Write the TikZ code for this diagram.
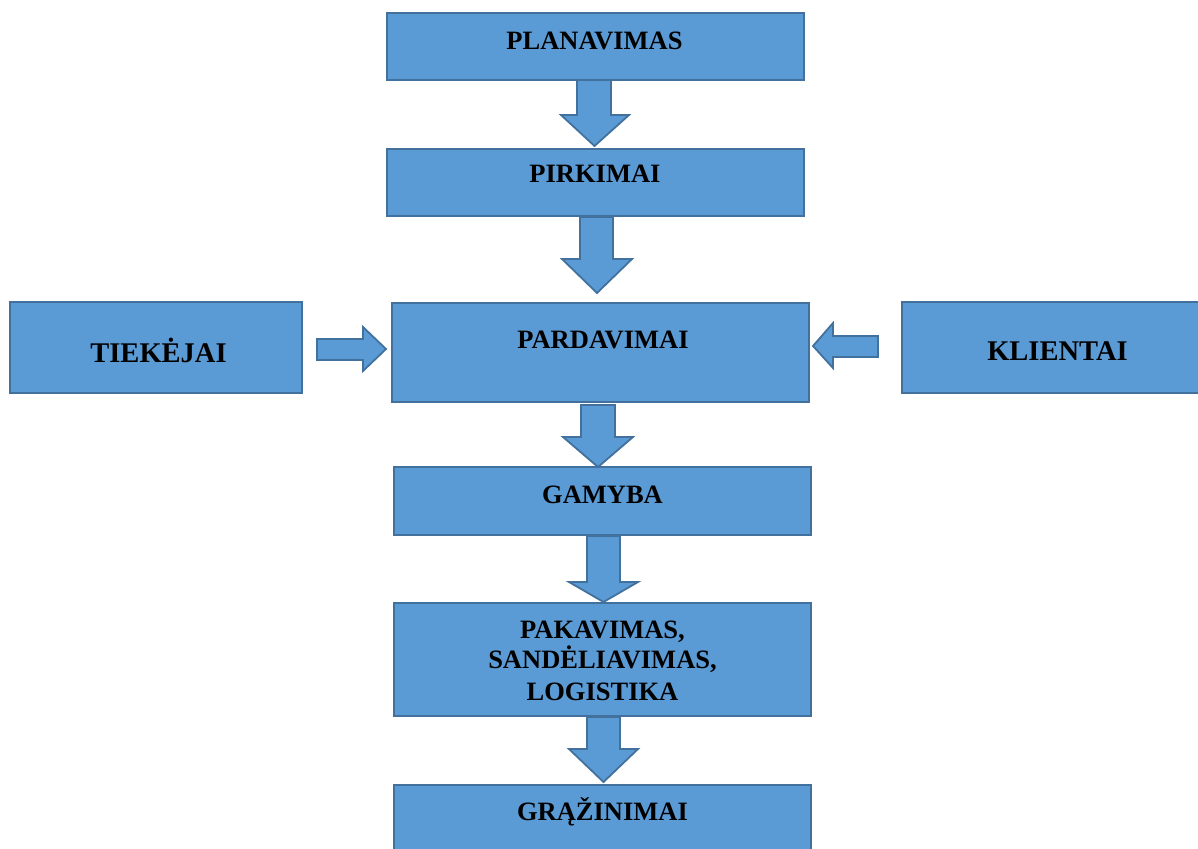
\documentclass[tikz,border=0pt]{standalone}
\usepackage{fontspec}
\setmainfont{Liberation Serif}
\definecolor{boxfill}{HTML}{5B9BD5}
\definecolor{boxline}{HTML}{41719C}
\begin{document}
\begin{tikzpicture}[x=1pt,y=-1pt,
  box/.style={draw=boxline,fill=boxfill,line width=2pt,inner sep=0pt,minimum width=417pt},
  blk/.style={draw=boxline,fill=boxfill,line width=1.8pt,line join=miter},
  lbl/.style={anchor=base,font=\fontsize{26.5}{31}\selectfont\bfseries,align=center,inner sep=0pt},
  biglbl/.style={anchor=base,font=\fontsize{28.5}{32}\selectfont\bfseries,inner sep=0pt}]
\useasboundingbox (0,0) rectangle (1198,848);
% boxes
\node[box,minimum height=67pt] (plan) at (595.5,46.5) {};
\node[box,minimum height=67pt] (pirk) at (595.5,182.5) {};
\node[box,minimum height=99pt] (pard) at (600,352) {};
\node[box,minimum width=292pt,minimum height=91pt] (tiek) at (156,347.5) {};
\node[box,minimum width=300pt,minimum height=91pt] (klie) at (1052,347.5) {};
\node[box,minimum height=68pt] (gam) at (602.5,501) {};
\node[box,minimum height=113pt] (pak) at (602.5,659.5) {};
\node[box,minimum height=80pt] (graz) at (602.5,825) {};
% labels
\node[lbl] (tplan) at (594.5,50) {PLANAVIMAS};
\node[lbl] (tpirk) at (595,182) {PIRKIMAI};
\node[lbl] (tpard) at (603,348) {PARDAVIMAI};
\node[biglbl] (ttiek) at (158.5,362) {TIEKĖJAI};
\node[biglbl] (tklie) at (1057.5,360) {KLIENTAI};
\node[lbl] (tgam) at (602.5,503) {GAMYBA};
\node[lbl] (tpak1) at (602.5,638) {PAKAVIMAS,};
\node[lbl] (tpak2) at (602.5,668) {SANDĖLIAVIMAS,};
\node[lbl] (tpak3) at (602.5,700) {LOGISTIKA};
\node[lbl] (tgraz) at (602.5,820) {GRĄŽINIMAI};
% block arrows (down)
\draw[blk] (577,80) -- (611,80) -- (611,115) -- (629,115) -- (594.5,146) -- (561,115) -- (577,115) -- cycle;
\draw[blk] (580,217) -- (613,217) -- (613,259) -- (632,259) -- (597,293) -- (562,259) -- (580,259) -- cycle;
\draw[blk] (581,405) -- (615,405) -- (615,437) -- (633,437) -- (598,467) -- (563,437) -- (581,437) -- cycle;
\draw[blk] (587,536) -- (620,536) -- (620,582) -- (638,582) -- (603.5,602) -- (569,582) -- (587,582) -- cycle;
\draw[blk] (587,717) -- (620,717) -- (620,749) -- (638,749) -- (603.5,782) -- (569,749) -- (587,749) -- cycle;
% side arrows
\draw[blk] (317,339) -- (363,339) -- (363,327) -- (386,349) -- (363,371) -- (363,360) -- (317,360) -- cycle;
\draw[blk] (878,336) -- (833,336) -- (833,323) -- (813,346) -- (833,368) -- (833,357) -- (878,357) -- cycle;
\end{tikzpicture}
\end{document}
